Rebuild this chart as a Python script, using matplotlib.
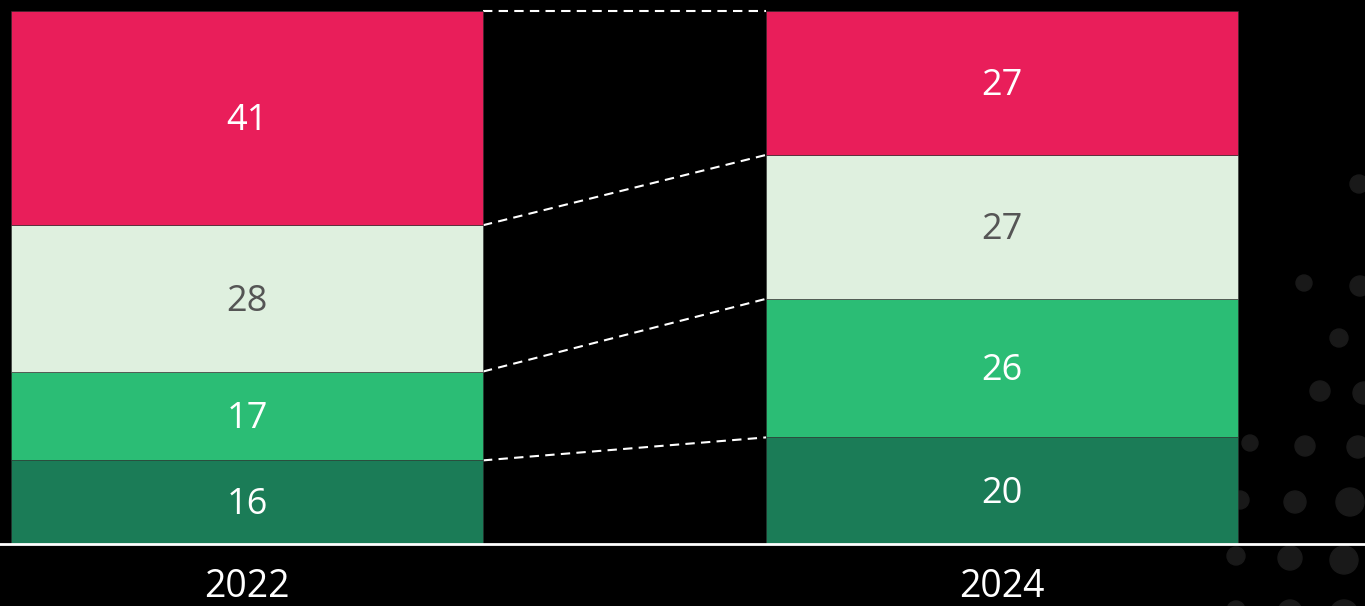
import numpy as np
import matplotlib
matplotlib.use("Agg")
import matplotlib.pyplot as plt

# data
years = ["2022", "2024"]
segments = ["s1", "s2", "s3", "s4"]  # bottom to top
values = {
    "2022": [16, 17, 28, 41],
    "2024": [20, 26, 27, 27],
}
colors = ["#1B7C57", "#2BBD75", "#DFF0DF", "#E91E5A"]
text_colors = ["white", "white", "#555555", "white"]

# decorative background dots (pixel positions, radius)
dots = [(1359, 184, 9), (1304, 283, 8), (1360, 286, 10), (1339, 338, 9),
        (1320, 391, 10), (1364, 393, 11), (1250, 443, 8), (1305, 446, 10),
        (1358, 447, 11), (1240, 500, 9), (1295, 502, 11), (1350, 502, 14),
        (1236, 556, 9), (1290, 558, 12), (1344, 560, 14),
        (1236, 610, 9), (1290, 612, 12), (1344, 614, 14)]

plt.rcParams['font.family'] = ['Open Sans', 'DejaVu Sans']

fig = plt.figure(figsize=(13.65, 6.06), dpi=100, facecolor="black")
ax = fig.add_axes([0, 0, 1, 1])
ax.patch.set_visible(False)

for px, py, r in dots:
    fig.patches.append(plt.Circle((px, 606 - py), r, transform=None,
                                  color="#191919", zorder=-1))

x = np.arange(len(years))
width = 0.625
cum = {}
for i, yr in enumerate(years):
    vals = np.array(values[yr], dtype=float)
    pct = vals / vals.sum() * 100
    bottoms = np.concatenate([[0], np.cumsum(pct)[:-1]])
    cum[yr] = np.cumsum(pct)
    for j in range(len(vals)):
        ax.bar(x[i], pct[j], width, bottom=bottoms[j], color=colors[j],
               edgecolor="#2f2f2f", linewidth=0.4, zorder=2)
        ax.text(x[i], bottoms[j] + pct[j] / 2 - 0.6, f"{int(vals[j])}",
                ha="center", va="center", color=text_colors[j],
                fontsize=26, zorder=3)

# dashed connectors
for j in range(len(segments)):
    ax.plot([x[0] + width / 2, x[1] - width / 2],
            [cum[years[0]][j], cum[years[1]][j]],
            color="white", linestyle=(0, (4.5, 3)), linewidth=1.5, zorder=1)

ax.axhline(0, color="white", linewidth=2, zorder=4)

for i, yr in enumerate(years):
    ax.text(x[i], -8.0, yr, ha="center", va="center", color="white",
            fontsize=27)

ax.set_xlim(-247 / 755, 1118 / 755)
ax.set_ylim(-62 / 533 * 100, 100 + 11 / 533 * 100)
ax.axis("off")

fig.savefig("out.png", dpi=100, facecolor="black")
